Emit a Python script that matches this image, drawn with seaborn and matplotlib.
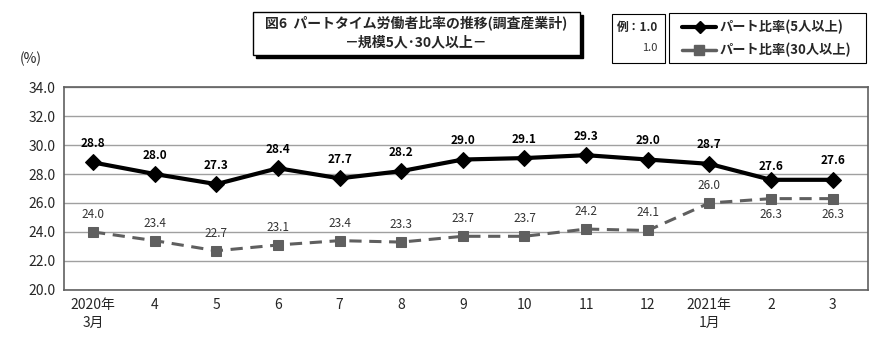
import matplotlib
matplotlib.use("Agg")
import matplotlib.pyplot as plt
import seaborn as sns
import pandas as pd
from matplotlib.patches import Rectangle
from matplotlib.lines import Line2D

sns.set_theme(style="white")
plt.rcParams['font.family'] = ['Noto Sans CJK JP', 'DejaVu Sans']

months = ["2020年\n3月", "4", "5", "6", "7", "8", "9", "10", "11", "12", "2021年\n1月", "2", "3"]
part5 = [28.8, 28.0, 27.3, 28.4, 27.7, 28.2, 29.0, 29.1, 29.3, 29.0, 28.7, 27.6, 27.6]
part30 = [24.0, 23.4, 22.7, 23.1, 23.4, 23.3, 23.7, 23.7, 24.2, 24.1, 26.0, 26.3, 26.3]
label5 = "パート比率(5人以上)"
label30 = "パート比率(30人以上)"

x = list(range(len(months)))
df5 = pd.DataFrame({"x": x, "v": part5})
df30 = pd.DataFrame({"x": x, "v": part30})

fig = plt.figure(figsize=(8.9, 3.57), dpi=100)
ax = fig.add_axes([0.072, 0.188, 0.903, 0.568])

gray = "#5f5f5f"
sns.lineplot(data=df30, x="x", y="v", ax=ax, color=gray, lw=2.2, marker="s", markersize=7,
             markeredgecolor=gray, linestyle=(0, (4, 2.5)))
sns.lineplot(data=df5, x="x", y="v", ax=ax, color="black", lw=3, marker="D", markersize=8,
             markeredgecolor="black")

ax.set_xlim(-0.47, 12.57)
ax.set_ylim(20, 34)
ax.set_yticks([20, 22, 24, 26, 28, 30, 32, 34])
ax.set_yticklabels([f"{v:.1f}" for v in ax.get_yticks()], fontsize=10)
ax.set_xticks(x)
ax.set_xticklabels(months, fontsize=10, linespacing=1.3, va="top")
ax.tick_params(axis="both", length=0, pad=6)
ax.set_xlabel("")
ax.set_ylabel("")
ax.yaxis.grid(True, color="#a0a0a0", lw=1)
ax.xaxis.grid(False)
for s in ax.spines.values():
    s.set_color("#606060")
    s.set_linewidth(1.2)

for i, v in enumerate(part5):
    dy = 5 if i == 11 else 9
    ax.annotate(f"{v:.1f}", (i, v), xytext=(0, dy), textcoords="offset points",
                ha="center", va="bottom", fontsize=8.5, fontweight="bold", color="black")
for i, v in enumerate(part30):
    if i >= 11:
        ax.annotate(f"{v:.1f}", (i, v), xytext=(0, -7), textcoords="offset points",
                    ha="center", va="top", fontsize=8.5, color="#333333")
    else:
        ax.annotate(f"{v:.1f}", (i, v), xytext=(0, 8), textcoords="offset points",
                    ha="center", va="bottom", fontsize=8.5, color="#333333")

fig.text(31 / 890, 1 - 59 / 357, "(%)", fontsize=10, ha="center", va="center")

def px(xp, yp):
    return xp / 890, 1 - yp / 357

# Title box with shadow
bx0, by0 = px(253, 55)
bw, bh = (580 - 253) / 890, (55 - 12) / 357
fig.patches.append(Rectangle((bx0 + 3 / 890, by0 - 3 / 357), bw, bh, transform=fig.transFigure,
                             facecolor="black", edgecolor="black", lw=1))
fig.patches.append(Rectangle((bx0, by0), bw, bh, transform=fig.transFigure,
                             facecolor="white", edgecolor="black", lw=1))
fig.text(*px(416, 23), "図6  パートタイム労働者比率の推移(調査産業計)", fontsize=10,
         fontweight="bold", ha="center", va="center")
fig.text(*px(416, 42), "－規模5人･30人以上－", fontsize=10, fontweight="bold", ha="center", va="center")

# example box
ex0, ey0 = px(612, 63)
fig.patches.append(Rectangle((ex0, ey0), (665 - 612) / 890, (63 - 14) / 357, transform=fig.transFigure,
                             facecolor="white", edgecolor="black", lw=0.8))
fig.text(*px(638, 27), "例：1.0", fontsize=8.5, fontweight="bold", ha="center", va="center")
fig.text(*px(657, 48), "1.0", fontsize=8, ha="right", va="center", color="#333333")

# legend box
lx0, ly0 = px(669, 63)
fig.patches.append(Rectangle((lx0, ly0), (866 - 669) / 890, (63 - 13) / 357, transform=fig.transFigure,
                             facecolor="white", edgecolor="black", lw=0.8))
fig.lines.append(Line2D([682 / 890, 716 / 890], [1 - 27 / 357] * 2, transform=fig.transFigure,
                        color="black", lw=3))
fig.lines.append(Line2D([700 / 890], [1 - 27 / 357], transform=fig.transFigure,
                        color="black", marker="D", markersize=6, lw=0))
fig.lines.append(Line2D([682 / 890, 716 / 890], [1 - 50 / 357] * 2, transform=fig.transFigure,
                        color=gray, lw=2.5))
fig.lines.append(Line2D([699 / 890], [1 - 50 / 357], transform=fig.transFigure,
                        color=gray, marker="s", markersize=7, lw=0))
fig.text(*px(720, 27), label5, fontsize=9.5, fontweight="bold", ha="left", va="center")
fig.text(*px(720, 50), label30, fontsize=9.5, fontweight="bold", ha="left", va="center")

fig.savefig("out.png", dpi=100)
